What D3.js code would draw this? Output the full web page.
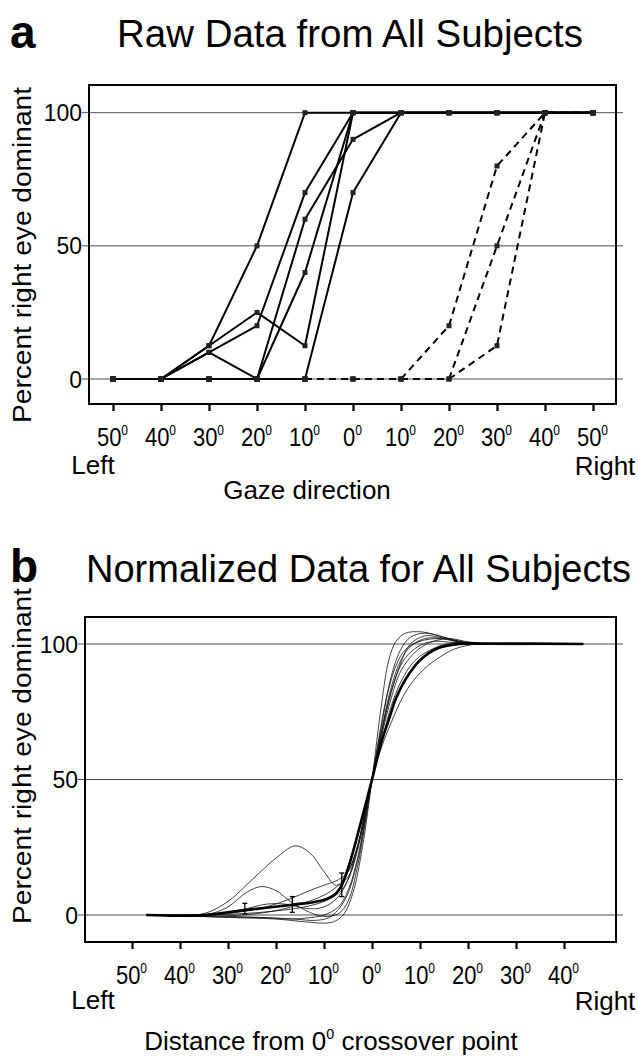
<!DOCTYPE html>
<html><head><meta charset="utf-8">
<script src="https://cdn.jsdelivr.net/npm/d3@7"></script>
<style>
body{margin:0;background:#fff}
svg{display:block}
text{font-family:"Liberation Sans",Arial,Helvetica,sans-serif;fill:#000}
</style>
</head><body>
<svg id="c" width="638" height="1058"></svg>
<script>
// ================= DATA =================
// Panel a: raw data, gaze direction (deg, negative = left)
const gazeX = [-50,-40,-30,-20,-10,0,10,20,30,40,50];
const gazeTickLabels = ["50","40","30","20","10","0","10","20","30","40","50"];
const solid1 = [0,0,12.5,50,100,100,100,100,100,100,100];
const solid2 = [0,0,12.5,25,12.5,100,100,100,100,100,100];
const solid3 = [0,0,10,20,70,100,100,100,100,100,100];
const solid4 = [0,0,10,0,60,90,100,100,100,100,100];
const solid5 = [0,0,0,0,40,100,100,100,100,100,100];
const solid6 = [0,0,0,0,0,70,100,100,100,100,100];
const dashed1 = [0,0,0,0,0,0,0,20,80,100,100];
const dashed2 = [0,0,0,0,0,0,0,0,50,100,100];
const dashed3 = [0,0,0,0,0,0,0,0,12.5,100,100];
const yTicks = [0,50,100];

// Panel b: normalized fitted curves, [distance (deg), percent]
const distTicks = [-50,-40,-30,-20,-10,0,10,20,30,40];
const distTickLabels = ["50","40","30","20","10","0","10","20","30","40"];
const fit1 = [[-47,0],[-40,0],[-35,0.5],[-30,5],[-25,13],[-20,21],[-16,25.5],[-13,23],[-10,16],[-7.5,11],[-5,14],[-3,25],[-1.5,38],[0,50],[1.5,63],[3,76],[5,88],[7,95],[10,99.5],[13,101],[17,100.5],[22,100],[44,100]];
const fit2 = [[-47,0],[-40,0],[-34,0.3],[-30,3],[-26,8.5],[-23,10.5],[-20,9],[-17,5],[-13,1],[-10,-0.5],[-7,0.5],[-5,5],[-3,18],[-1.5,33],[0,50],[1.5,66],[3,80],[5,92],[7,98],[10,101],[14,102],[18,100.8],[23,100],[44,100]];
const fit3 = [[-47,0],[-38,-0.5],[-33,0],[-28,1],[-22,3],[-17,6],[-13,9],[-10,11],[-7,13],[-5,16],[-3,25],[-1.5,37],[0,50],[2,64],[4,77],[6,86],[9,94],[13,98.5],[17,100.5],[22,100.3],[26,100],[44,100]];
const fit4 = [[-47,0],[-36,-0.5],[-30,-0.3],[-24,0.5],[-19,2],[-15,4],[-11,6.5],[-8,9.5],[-6,13],[-4,20],[-2,33],[0,50],[2,67],[4,82],[6,93],[8,100],[11,103],[14,102.5],[18,100.8],[22,100],[44,100]];
const fit5 = [[-47,0],[-36,-0.5],[-28,-1],[-20,-1.5],[-14,-2.5],[-10,-3],[-8,-2.5],[-6,0],[-4,8],[-2,25],[0,50],[2,78],[3.5,94],[5,101],[7,104],[10,104.5],[13,103.5],[17,101.5],[21,100.3],[25,100],[44,100]];
const fit6 = [[-47,0],[-37,-0.5],[-30,-0.8],[-22,-1],[-16,-1.5],[-12,-2],[-9,-1],[-7,2],[-5,8],[-3,20],[-1.5,34],[0,50],[2,70],[4,88],[6,98],[8,102.5],[11,104],[14,103],[18,101],[22,100],[44,100]];
const fit7 = [[-47,0],[-38,-0.3],[-30,-0.5],[-22,-1],[-17,-1.5],[-13,-1],[-10,0],[-7,3],[-5,9],[-3,21],[-1.5,35],[0,50],[2,66],[4,80],[6,90],[9,97],[12,100.5],[16,102],[20,100.8],[25,100],[44,100]];
const fit8 = [[-47,0],[-35,0],[-27,0.5],[-20,1.5],[-14,3],[-10,5],[-7,8],[-5,13],[-3,24],[-1.5,36],[0,50],[2,62],[4,71],[6,79],[8,85],[11,91],[14,95],[17,98],[21,99.8],[26,100],[44,100]];
const fit9 = [[-47,0],[-38,0],[-32,0.5],[-27,2],[-22,4],[-18,4],[-14,2.5],[-11,2.5],[-8,5],[-5.5,11],[-3.5,22],[-1.5,36],[0,50],[2,68],[4,84],[6,94],[8,99],[11,102],[15,102],[19,100.6],[23,100],[44,100]];
const meanFit = [[-47,0],[-40,-0.3],[-35,0],[-30,1],[-26.5,1.8],[-22,2.7],[-16.6,3.8],[-12,4.8],[-9.3,6],[-7.5,8],[-6.3,11],[-4.5,20],[-2.5,33],[0,50],[2,64],[3.5,72],[5,80],[7,87],[10,94],[13.8,98.5],[18,100],[24,100.2],[44,100]];
const errX  = [-26.5,-16.6,-6.3];
const errLo = [0.4,1.0,6.8];
const errHi = [4.3,6.8,15.5];

// ================= DRAWING =================
const svg = d3.select("#c");
const FONT = '"Liberation Sans",Arial,sans-serif';

function degLabel(sel){
  sel.each(function(){
    const t = d3.select(this); const s = t.text(); t.text(null);
    t.append("tspan").text(s);
    t.append("tspan").attr("font-size","0.55em").attr("dy","-0.8em").text("0");
  });
}

function panel(cfg){
  const g = svg.append("g");
  const {x, y, box} = cfg;
  g.selectAll("line.grid").data(yTicks).join("line")
    .attr("x1", box.left-7).attr("x2", box.right+7)
    .attr("y1", d=>y(d)).attr("y2", d=>y(d))
    .attr("stroke","#3a3a3a").attr("stroke-width",0.9);
  g.append("rect").attr("x",box.left).attr("y",box.top)
    .attr("width",box.right-box.left).attr("height",box.bottom-box.top)
    .attr("fill","none").attr("stroke","#000").attr("stroke-width",2);
  g.selectAll("text.yl").data(yTicks).join("text")
    .attr("text-anchor","end")
    .attr("transform", d=>`translate(${box.left-7},${y(d)+8.5}) scale(1,1.08)`)
    .attr("font-size",23).text(d=>d);
  const ax = g.append("g").attr("transform",`translate(0,${box.bottom})`)
    .call(d3.axisBottom(x).tickValues(cfg.ticks).tickSize(7).tickSizeOuter(0)
      .tickFormat((d,i)=>cfg.labels[i]));
  ax.select(".domain").remove();
  ax.selectAll(".tick line").attr("stroke","#000").attr("stroke-width",2.2);
  ax.selectAll(".tick text").attr("y",0).attr("dy",0)
    .attr("font-family",FONT).attr("font-size",22).attr("fill","#000")
    .attr("transform","translate(-1,42) scale(1,1.15)")
    .call(degLabel);
  g.append("text").attr("x",93).attr("y",box.bottom+cfg.lrDy).attr("text-anchor","middle")
    .attr("font-size",26).text("Left");
  g.append("text").attr("x",605).attr("y",box.bottom+cfg.lrDy+1).attr("text-anchor","middle")
    .attr("font-size",26).text("Right");
  g.append("text").attr("transform",`translate(31,${cfg.yTitleC}) rotate(-90)`)
    .attr("text-anchor","middle").attr("font-size",25)
    .attr("textLength",336).attr("lengthAdjust","spacingAndGlyphs")
    .text("Percent right eye dominant");
  return g;
}

// ---------- Panel a ----------
const boxA = {left:89,right:616,top:85,bottom:404};
const xA = d3.scaleLinear().domain([-50,50]).range([113,593]);
const yA = d3.scaleLinear().domain([0,100]).range([379,112.7]);
const gA = panel({x:xA,y:yA,box:boxA,ticks:gazeX,labels:gazeTickLabels,lrDy:70,yTitleC:255});

const lineA = d3.line().x((d,i)=>xA(gazeX[i])).y(d=>yA(d));
const solids = [solid1,solid2,solid3,solid4,solid5,solid6];
const dashes = [dashed1,dashed2,dashed3];
gA.selectAll("path.dash").data(dashes).join("path")
  .attr("d",lineA).attr("fill","none").attr("stroke","#000")
  .attr("stroke-width",2).attr("stroke-dasharray","7,5");
gA.selectAll("path.sol").data(solids).join("path")
  .attr("d",lineA).attr("fill","none").attr("stroke","#000")
  .attr("stroke-width",2).attr("stroke-linejoin","round");
const pts = [];
[...solids,...dashes].forEach(s=>s.forEach((v,i)=>pts.push([gazeX[i],v])));
gA.selectAll("rect.mk").data(pts).join("rect")
  .attr("x",d=>xA(d[0])-2.5).attr("y",d=>yA(d[1])-2.5)
  .attr("width",5).attr("height",5).attr("fill","#222");

gA.append("text").attr("x",10).attr("y",48).attr("font-size",46).attr("font-weight","bold").text("a");
gA.append("text").attr("x",117).attr("y",47).attr("font-size",38)
  .attr("textLength",466).attr("lengthAdjust","spacingAndGlyphs").text("Raw Data from All Subjects");
gA.append("text").attr("x",307).attr("y",499).attr("text-anchor","middle").attr("font-size",26).text("Gaze direction");

// ---------- Panel b ----------
const boxB = {left:85,right:616,top:617,bottom:942};
const xB = d3.scaleLinear().domain([-50,40]).range([132,564]);
const yB = d3.scaleLinear().domain([0,100]).range([915,644]);
const gB = panel({x:xB,y:yB,box:boxB,ticks:distTicks,labels:distTickLabels,lrDy:67,yTitleC:756});

const lineB = d3.line().x(d=>xB(d[0])).y(d=>yB(d[1])).curve(d3.curveCatmullRom.alpha(0.5));
const fits = [fit1,fit2,fit3,fit4,fit5,fit6,fit7,fit8,fit9];
gB.selectAll("path.fit").data(fits).join("path")
  .attr("d",lineB).attr("fill","none").attr("stroke","#111").attr("stroke-width",0.8);
gB.append("path").datum(meanFit).attr("d",lineB).attr("fill","none")
  .attr("stroke","#000").attr("stroke-width",2.6);
const eb = gB.selectAll("g.eb").data(errX).join("g");
eb.append("line").attr("x1",d=>xB(d)).attr("x2",d=>xB(d))
  .attr("y1",(d,i)=>yB(errLo[i])).attr("y2",(d,i)=>yB(errHi[i]))
  .attr("stroke","#000").attr("stroke-width",1.3);
eb.append("line").attr("x1",d=>xB(d)-2.5).attr("x2",d=>xB(d)+2.5)
  .attr("y1",(d,i)=>yB(errHi[i])).attr("y2",(d,i)=>yB(errHi[i]))
  .attr("stroke","#000").attr("stroke-width",1.3);
eb.append("line").attr("x1",d=>xB(d)-2.5).attr("x2",d=>xB(d)+2.5)
  .attr("y1",(d,i)=>yB(errLo[i])).attr("y2",(d,i)=>yB(errLo[i]))
  .attr("stroke","#000").attr("stroke-width",1.3);

gB.append("text").attr("x",10).attr("y",582).attr("font-size",46).attr("font-weight","bold").text("b");
gB.append("text").attr("x",86).attr("y",582).attr("font-size",38)
  .attr("textLength",545).attr("lengthAdjust","spacingAndGlyphs").text("Normalized Data for All Subjects");
const xt = gB.append("text").attr("x",331).attr("y",1050).attr("text-anchor","middle").attr("font-size",26);
xt.append("tspan").text("Distance from 0");
xt.append("tspan").attr("font-size","0.55em").attr("dy","-0.8em").text("0");
xt.append("tspan").attr("dy","0.44em").text(" crossover point");
</script>
</body></html>
